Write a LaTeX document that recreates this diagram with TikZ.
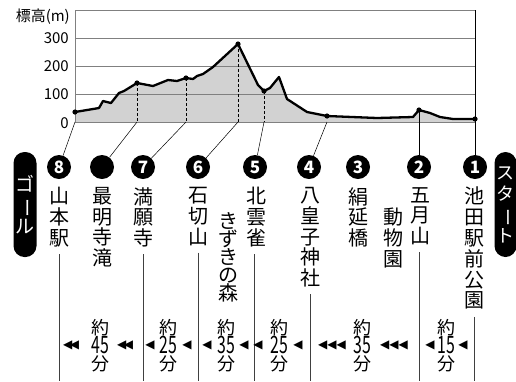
\documentclass[tikz,border=0pt]{standalone}
\usepackage{fontspec}
\setmainfont{Noto Sans CJK JP}
\newfontfamily\trifont{DejaVu Sans}
\newcommand{\chouon}{\rotatebox[origin=c]{-90}{ー}}

\tikzset{
  stopmark/.style={circle,fill=black,text=white,minimum size=24pt,inner sep=0pt,font=\fontsize{17}{17}\selectfont\bfseries},
  tate/.style={anchor=north,align=center,inner sep=0pt,font=\fontsize{20}{20.8}\selectfont},
  badge/.style={fill=black,text=white,rounded corners=11pt,minimum width=23pt,minimum height=105pt,inner sep=0pt,align=center,font=\fontsize{19}{21}\selectfont},
  gridline/.style={gray,line width=.9pt},
  dropline/.style={densely dashed,line width=.8pt},
  lead/.style={line width=.5pt},
  tick/.style={black!75,line width=.6pt},
  dur/.style={inner sep=0pt,font=\fontsize{18}{18}\selectfont},
  durnum/.style={inner sep=0pt,font=\fontsize{24}{24}\selectfont,xscale=.66},
  tri/.style={inner sep=0pt,font=\trifont\fontsize{12}{12}\selectfont},
  ylab/.style={anchor=east,inner sep=0pt,font=\fontsize{15}{15}\selectfont},
}

\begin{document}
\begin{tikzpicture}[x=1pt,y=-1pt]
\useasboundingbox (0,0) rectangle (516,381);

% points on the profile
\coordinate (p8) at (75,112);
\coordinate (pB) at (137,83);
\coordinate (p7) at (186,78);
\coordinate (p6) at (238,44);
\coordinate (p5) at (264,91);
\coordinate (p4) at (327,116);
\coordinate (p2) at (419,110);
\coordinate (p1) at (475,119);
\coordinate (base) at (0,122);
\coordinate (bottom) at (0,381);

\fill[gray!35] (p8 |- base) -- (p8) -- (99,108) -- (103,101) -- (111,103) -- (119,93) -- (124,91) -- (pB)
  -- (153,86) -- (168,80) -- (177,81) -- (p7) -- (193,79) -- (197,76) -- (203,74) -- (213,67) -- (p6)
  -- (258,85) -- (p5) -- (270,88) -- (279,77) -- (287,99) -- (307,112) -- (p4) -- (377,118) -- (413,117)
  -- (p2) -- (430,113) -- (440,117) -- (453,119) -- (p1) -- (p1 |- base) -- cycle;

% grid
\draw[gridline] (75,10) -- (475,10);
\draw[gridline] (75,38) -- (475,38);
\draw[gridline] (75,66) -- (475,66);
\draw[gridline] (75,94) -- (475,94);
\draw[gridline] (75,10) -- (p8 |- base) -- (p1 |- base);

\node[ylab] (unit) at (70,17) {標高(m)};
\node[ylab] (h300) at (69,38) {300};
\node[ylab] (h200) at (69,66) {200};
\node[ylab] (h100) at (69,94) {100};
\node[ylab] (h0) at (69,123) {0};

\draw[line width=2.3pt,line join=round] (p8) -- (99,108) -- (103,101) -- (111,103) -- (119,93) -- (124,91) -- (pB)
  -- (153,86) -- (168,80) -- (177,81) -- (p7) -- (193,79) -- (197,76) -- (203,74) -- (213,67) -- (p6)
  -- (258,85) -- (p5) -- (270,88) -- (279,77) -- (287,99) -- (307,112) -- (p4) -- (377,118) -- (413,117)
  -- (p2) -- (430,113) -- (440,117) -- (453,119) -- (p1);

\draw[dropline] (pB) -- (pB |- base);
\draw[dropline] (p7) -- (p7 |- base);
\draw[dropline] (p6) -- (p6 |- base);
\draw[dropline] (p5) -- (p5 |- base);

% stops
\node[stopmark] (c8) at (59,167) {8};
\node[stopmark] (cB) at (102,167) {};
\node[stopmark] (c7) at (143,167) {7};
\node[stopmark] (c6) at (198,167) {6};
\node[stopmark] (c5) at (255,167) {5};
\node[stopmark] (c4) at (309,167) {4};
\node[stopmark] (c3) at (358,167) {3};
\node[stopmark] (c2) at (419,167) {2};
\node[stopmark] (c1) at (475,167) {1};

\draw[lead] (p8 |- base) -- (c8);
\draw[lead] (pB |- base) -- (cB);
\draw[lead] (p7 |- base) -- (c7);
\draw[lead] (p6 |- base) -- (c6);
\draw[lead] (p5 |- base) -- (c5);
\draw[lead] (p4 |- base) -- (c4);
\draw[lead] (p2) -- (c2);
\draw[line width=.9pt] (p1 |- 0,10) -- (c1);

\foreach \p in {p8,pB,p7,p6,p5,p4,p2,p1}
  \fill (\p) circle (2.6pt);

% names
\node[tate] (t8) at (59,187) {山\\本\\駅};
\node[tate] (tB) at (102,187) {最\\明\\寺\\滝};
\node[tate] (t7) at (143,187) {満\\願\\寺};
\node[tate] (t6) at (198,187) {石\\切\\山};
\node[tate] (t5) at (256,187) {北\\雲\\雀};
\node[tate,font=\fontsize{20}{18.2}\selectfont] (t5b) at (228,212) {き\\ず\\き\\の\\森};
\node[tate] (t4) at (310,187) {八\\皇\\子\\神\\社};
\node[tate] (t3) at (358,187) {絹\\延\\橋};
\node[tate] (t2) at (420,187) {五\\月\\山};
\node[tate] (t2b) at (393,208) {動\\物\\園};
\node[tate] (t1) at (474,187) {池\\田\\駅\\前\\公\\園};

\node[badge] (goal) at (25,204.5) {ゴ\\\chouon\\ル};
\node[badge,minimum width=22pt,font=\fontsize{18}{21}\selectfont] (start) at (505.5,204.5) {ス\\タ\\\chouon\\ト};

% time between stops
\draw[tick] ([yshift=-7pt]t8.south) -- (t8.south |- bottom);
\draw[tick] ([yshift=-7pt]t7.south) -- (t7.south |- bottom);
\draw[tick] ([yshift=-7pt]t6.south) -- (t6.south |- bottom);
\draw[tick] ([yshift=-7pt]t5.south -| 254,0) -- (254,381);
\draw[tick] ([yshift=-7pt]t4.south) -- (t4.south |- bottom);
\draw[tick] ([yshift=-7pt]t2.south -| c2) -- (c2 |- bottom);
\draw[tick] ([yshift=-7pt]t1.south) -- (t1.south |- bottom);

\node[dur] (y1) at (100,328) {約};
\node[durnum] (n1) at (100,345) {45};
\node[dur] (f1) at (100,364) {分};
\node[dur] (y2) at (168,328) {約};
\node[durnum] (n2) at (168,345) {25};
\node[dur] (f2) at (168,364) {分};
\node[dur] (y3) at (226,328) {約};
\node[durnum] (n3) at (226,345) {35};
\node[dur] (f3) at (226,364) {分};
\node[dur] (y4) at (279,328) {約};
\node[durnum] (n4) at (279,345) {25};
\node[dur] (f4) at (279,364) {分};
\node[dur] (y5) at (362,328) {約};
\node[durnum] (n5) at (362,345) {35};
\node[dur] (f5) at (362,364) {分};
\node[dur] (y6) at (446,328) {約};
\node[durnum] (n6) at (446,345) {15};
\node[dur] (f6) at (446,364) {分};

\node[tri] (a1l) at (71,345) {◀\kern-2.5pt◀};
\node[tri] (a1r) at (125,345) {◀\kern-2.5pt◀};
\node[tri] (a2l) at (150,345) {◀};
\node[tri] (a2r) at (187,345) {◀};
\node[tri] (a3l) at (207,345) {◀};
\node[tri] (a3r) at (244,345) {◀};
\node[tri] (a4l) at (258,345) {◀};
\node[tri] (a4r) at (298,345) {◀};
\node[tri] (a5l) at (332,345) {◀◀◀};
\node[tri] (a5r) at (394,345) {◀◀◀};
\node[tri] (a6l) at (430,345) {◀};
\node[tri] (a6r) at (463,345) {◀};
\end{tikzpicture}
\end{document}
